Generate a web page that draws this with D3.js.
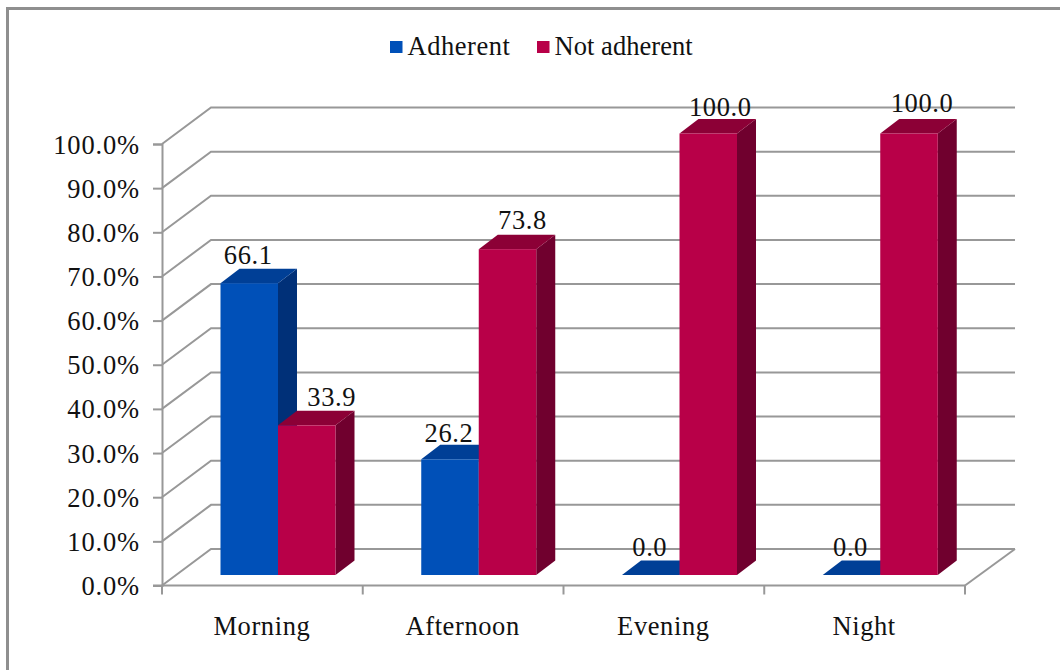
<!DOCTYPE html>
<html><head><meta charset="utf-8">
<script src="https://cdn.jsdelivr.net/npm/d3@7/dist/d3.min.js"></script>
<style>html,body{margin:0;padding:0;background:#fff}svg{display:block}
text{font-family:"Liberation Serif",serif;fill:#111}</style></head>
<body><svg id="c" width="1060" height="670"></svg>
<script>
const categories = ["Morning","Afternoon","Evening","Night"];
const adherent = [66.1,26.2,0.0,0.0];
const notAdherent = [33.9,73.8,100.0,100.0];
const yTicks = [0,10,20,30,40,50,60,70,80,90,100];
const seriesNames = ["Adherent","Not adherent"];
const labelNudgeX = [[-1,-1,-1,-1],[25,15,12,13]];
const labelNudgeY = [[-19,-17,-19,-19],[-19,-20,-18,-22]];

const svg = d3.select("#c");
const fs = 26.5, grey = "#989898";
const L=162, R=965, Y0=585.5, Y100=144;
const dx=49, dy=-36.5;        // floor depth
const bdx=19, bdy=-14.5;      // bar depth
const y = d3.scaleLinear().domain([0,100]).range([Y0,Y100]);
const x = d3.scaleBand().domain(categories).range([L,R]);
const barY0 = -10.5;
const barW = 57.5, barStart = 58.5;
const colors = [{f:"#0050b8",t:"#003f96",s:"#003078"},{f:"#b80048",t:"#8c0036",s:"#70002e"}];

// frame
svg.append("path").attr("d","M1060,8.5H7.5V670").attr("fill","none").attr("stroke","#8f8f8f").attr("stroke-width",3);

// gridlines: back wall and left wall
const grid = svg.append("g").attr("fill","none").attr("stroke",grey).attr("stroke-width",2);
yTicks.forEach(t=>{
  grid.append("path").attr("d",`M${L},${y(t)}L${L+dx},${y(t)+dy}H${R+dx+1}`);
});
grid.append("path").attr("d",`M${R},${Y0}L${R+dx+1},${Y0+dy}`);

// axes
const axisY = d3.axisLeft(y).tickValues(yTicks).tickSize(9).tickPadding(13).tickFormat(d=>d.toFixed(1)+"%");
const gy = svg.append("g").attr("transform",`translate(${L},0)`).call(axisY);
const xEdges = d3.range(categories.length+1).map(i=>L+i*x.step());
const gx = svg.append("g");
gx.append("line").attr("x1",L-9).attr("x2",R).attr("y1",Y0).attr("y2",Y0).attr("stroke",grey).attr("stroke-width",2);
gx.selectAll("line.t").data(xEdges).join("line").attr("class","t")
  .attr("x1",d=>d).attr("x2",d=>d).attr("y1",Y0).attr("y2",Y0+9).attr("stroke",grey).attr("stroke-width",2);
gy.selectAll("path,line").attr("stroke",grey).attr("stroke-width",2);
gy.selectAll("text").attr("font-size",fs).attr("font-family","Liberation Serif").attr("dy","0.34em").attr("fill","#111").attr("letter-spacing",0.85);
gx.selectAll("text.c").data(categories).join("text").attr("class","c")
  .attr("x",d=>x(d)+x.step()/2-0.5).attr("y",Y0+49).attr("text-anchor","middle").attr("font-size",fs).attr("letter-spacing",0.6).text(d=>d);

// bars
const marks = svg.append("g");
const series=[adherent,notAdherent];
series.forEach((vals,s)=>{
  vals.forEach((v,i)=>{
    const xl=x(categories[i])+barStart+s*barW, xr=xl+barW;
    const yb=Y0+barY0, yt=y(v)+barY0;
    const c=colors[s];
    marks.append("path").attr("fill",c.s).attr("d",`M${xr},${yb}L${xr+bdx},${yb+bdy}V${yt+bdy}L${xr},${yt}Z`);
    marks.append("path").attr("fill",c.t).attr("d",`M${xl},${yt}L${xl+bdx},${yt+bdy}H${xr+bdx}L${xr},${yt}Z`);
    marks.append("rect").attr("fill",c.f).attr("x",xl).attr("y",yt).attr("width",barW).attr("height",yb-yt);
  });
});
series.forEach((vals,s)=>{
  vals.forEach((v,i)=>{
    const xl=x(categories[i])+barStart+s*barW;
    marks.append("text").attr("x",xl+barW/2+labelNudgeX[s][i]).attr("y",y(v)+barY0+labelNudgeY[s][i])
      .attr("text-anchor","middle").attr("font-size",fs).attr("letter-spacing",0.6).text(v.toFixed(1));
  });
});

// legend
const legX=[390,537], legSp=[0.55,0.05];
seriesNames.forEach((n,s)=>{
  svg.append("rect").attr("x",legX[s]).attr("y",41).attr("width",12.5).attr("height",12).attr("fill",colors[s].f);
  svg.append("text").attr("x",legX[s]+17.5).attr("y",55).attr("font-size",fs).attr("letter-spacing",legSp[s]).text(n);
});
</script></body></html>
